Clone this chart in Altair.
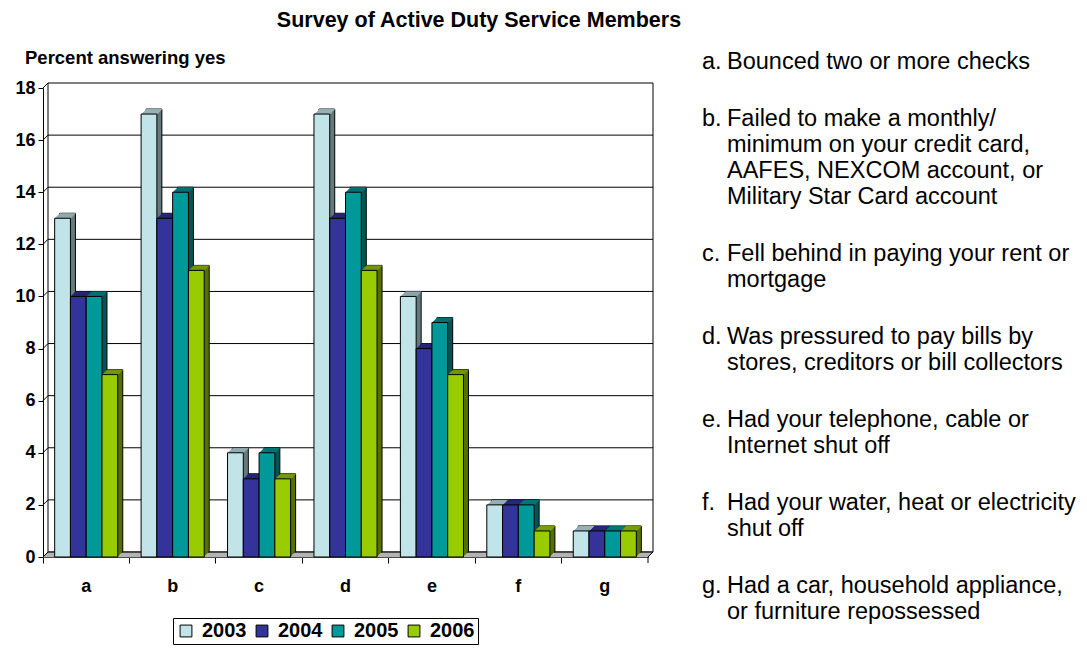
import altair as alt
import pandas as pd

categories = ["a", "b", "c", "d", "e", "f", "g"]
years = ["2003", "2004", "2005", "2006"]
v2003 = [13, 17, 4, 17, 10, 2, 1]
v2004 = [10, 13, 3, 13, 8, 2, 1]
v2005 = [10, 14, 4, 14, 9, 2, 1]
v2006 = [7, 11, 3, 11, 7, 1, 1]
y_ticks = [0, 2, 4, 6, 8, 10, 12, 14, 16, 18]
grid_ticks = [2, 4, 6, 8, 10, 12, 14, 16]

item_letters = ["a.", "b.", "c.", "d.", "e.", "f.", "g."]
item_lines = [
    ["Bounced two or more checks"],
    ["Failed to make a monthly/", "minimum on your credit card,",
     "AAFES, NEXCOM account, or", "Military Star Card account"],
    ["Fell behind in paying your rent or", "mortgage"],
    ["Was pressured to pay bills by", "stores, creditors or bill collectors"],
    ["Had your telephone, cable or", "Internet shut off"],
    ["Had your water, heat or electricity", "shut off"],
    ["Had a car, household appliance,", "or furniture repossessed"],
]

front_colors = ["#C0E4E8", "#333399", "#009999", "#99CC00"]
top_colors = ["#9AB6BA", "#29297F", "#007A7A", "#7AA300"]
side_colors = ["#667A7C", "#1C1C55", "#005555", "#557000"]

FONT = "Liberation Sans"
W, H, D = 605, 469, 5
GROUP_FRAC = 0.73
BW = W / len(categories) * GROUP_FRAC / len(years)

series = {"2003": v2003, "2004": v2004, "2005": v2005, "2006": v2006}
cat_df = pd.DataFrame({"cat": categories})
one = pd.DataFrame({"k": [0]})


def year_df(yr):
    return pd.DataFrame({"cat": categories, "value": series[yr],
                         "base": [0] * len(categories), "year": yr})


yscale = alt.Scale(domain=[0, 18], nice=False, zero=True)
xscale = alt.Scale(domain=categories, paddingInner=0, paddingOuter=0)
cscale = alt.Scale(domain=years, range=front_colors)

# identical axis definitions on every layer so that they merge into one axis
y_axis = alt.Axis(values=y_ticks, title=None, grid=False, tickColor="black",
                  tickSize=5, domainColor="black", labelFont=FONT,
                  labelFontSize=18, labelFontWeight="bold",
                  labelColor="black", labelPadding=3)
x_axis = alt.Axis(title=None, ticks=True, tickSize=6, tickColor="black",
                  bandPosition=0, labels=False, domain=True, domainColor="black",
                  grid=False)


def xenc():
    return alt.X("cat:N", sort=categories, scale=xscale, axis=x_axis)


def yq(field):
    return alt.Y(field, type="quantitative", scale=yscale, axis=y_axis)


# ---- walls / grid ----
wall_df = pd.DataFrame({"top": [18], "bot": [0]})
wall = alt.Chart(wall_df).mark_rect(fill="white", stroke="black", strokeWidth=1,
                                    yOffset=-D, y2Offset=-D).encode(
    x=alt.value(D), x2=alt.value(W + D), y=yq("top"), y2="bot:Q",
)
grid = alt.Chart(pd.DataFrame({"t": grid_ticks})).mark_rule(
    color="black", strokeWidth=1, yOffset=-D).encode(
    y=yq("t"), x=alt.value(D), x2=alt.value(W + D),
)
diag = alt.Chart(pd.DataFrame({"t": y_ticks, "t2": y_ticks})).mark_rule(
    color="black", strokeWidth=1, y2Offset=-D).encode(
    y=yq("t"), y2="t2:Q", x=alt.value(0), x2=alt.value(D),
)

floor_df = pd.DataFrame({"z": [0], "z2": [0]})
floor_layers = []
for j in range(0, D + 1):
    floor_layers.append(
        alt.Chart(floor_df).mark_rule(color="#999999", strokeWidth=1.2, yOffset=-j).encode(
            y=yq("z"), x=alt.value(j), x2=alt.value(W + j)
        )
    )
floor_back = alt.Chart(floor_df).mark_rule(color="black", strokeWidth=1, yOffset=-D).encode(
    y=yq("z"), x=alt.value(D), x2=alt.value(W + D)
)
floor_right = alt.Chart(floor_df).mark_rule(color="black", strokeWidth=1, y2Offset=-D).encode(
    y=yq("z"), y2="z2:Q", x=alt.value(W), x2=alt.value(W + D)
)
right_end_tick = alt.Chart(one).mark_rule(color="black", strokeWidth=1).encode(
    x=alt.value(W), y=alt.value(H), y2=alt.value(H + 6)
)

# ---- bars (3D look) ----
legend = alt.Legend(orient="none", legendX=130, legendY=530,
                    direction="horizontal", title=None,
                    symbolType="square", symbolSize=140,
                    symbolStrokeColor="black", symbolStrokeWidth=1,
                    labelFont=FONT, labelFontSize=20,
                    labelFontWeight="bold", labelColor="black",
                    strokeColor="black", fillColor="white",
                    padding=3, columnPadding=5, labelOffset=6)

side_layers, top_layers, front_layers = [], [], []
for i, yr in enumerate(years):
    off = (i - 1.5) * BW
    d = year_df(yr)
    for k in range(D, 0, -1):
        kw = dict(width=BW, xOffset=off + k, yOffset=-k, y2Offset=-k, color=side_colors[i])
        if k == D:
            kw.update(stroke="black", strokeWidth=1)
        else:
            kw.update(strokeWidth=0)
        side_layers.append(
            alt.Chart(d).mark_bar(**kw).encode(x=xenc(), y=yq("value"), y2="base:Q")
        )
    for k in range(D, 0, -1):
        top_layers.append(
            alt.Chart(d).mark_bar(width=BW, xOffset=off + k, yOffset=-k, y2Offset=-k + 1,
                                  strokeWidth=0, color=top_colors[i]).encode(
                x=xenc(), y=yq("value"), y2="value:Q",
            )
        )
    front_layers.append(
        alt.Chart(d).mark_bar(width=BW, xOffset=off, stroke="black", strokeWidth=1).encode(
            x=xenc(), y=yq("value"), y2="base:Q",
            color=alt.Color("year:N", scale=cscale, legend=legend),
        )
    )

cat_labels = alt.Chart(cat_df).mark_text(font=FONT, fontSize=18, fontWeight="bold",
                                         color="black", baseline="middle").encode(
    x=xenc(), y=alt.value(H + 30), text="cat:N"
)

# ---- texts ----
texts = []
texts.append(alt.Chart(one).mark_text(text="Survey of Active Duty Service Members",
                                      font=FONT, fontSize=21.5, fontWeight="bold",
                                      align="center", baseline="middle", color="black").encode(
    x=alt.value(436), y=alt.value(-67)))
texts.append(alt.Chart(one).mark_text(text="Percent answering yes", font=FONT,
                                      fontSize=18.5, fontWeight="bold", align="left",
                                      baseline="middle", color="black").encode(
    x=alt.value(-18), y=alt.value(-30)))

LINE_H = 26
GAP = 31
yy = 62 - 88
for letter, lines in zip(item_letters, item_lines):
    texts.append(alt.Chart(one).mark_text(text=letter, font=FONT, fontSize=23.5,
                                          align="left", baseline="middle",
                                          color="black").encode(
        x=alt.value(659), y=alt.value(yy)))
    for i, ln in enumerate(lines):
        texts.append(alt.Chart(one).mark_text(text=ln, font=FONT, fontSize=23.5,
                                              align="left", baseline="middle",
                                              color="black").encode(
            x=alt.value(684), y=alt.value(yy + i * LINE_H)))
    yy += len(lines) * LINE_H + GAP

chart = alt.layer(
    wall, grid, *floor_layers, floor_back, floor_right, diag,
    *side_layers, *top_layers, *front_layers, right_end_tick, cat_labels, *texts
).properties(
    width=W, height=H,
    autosize=alt.AutoSizeParams(type="none"),
    padding={"left": 35, "top": 80, "right": 431, "bottom": 92},
).configure_view(strokeWidth=0)

chart.save("out.html", embed_options={"renderer": "svg", "actions": False})
